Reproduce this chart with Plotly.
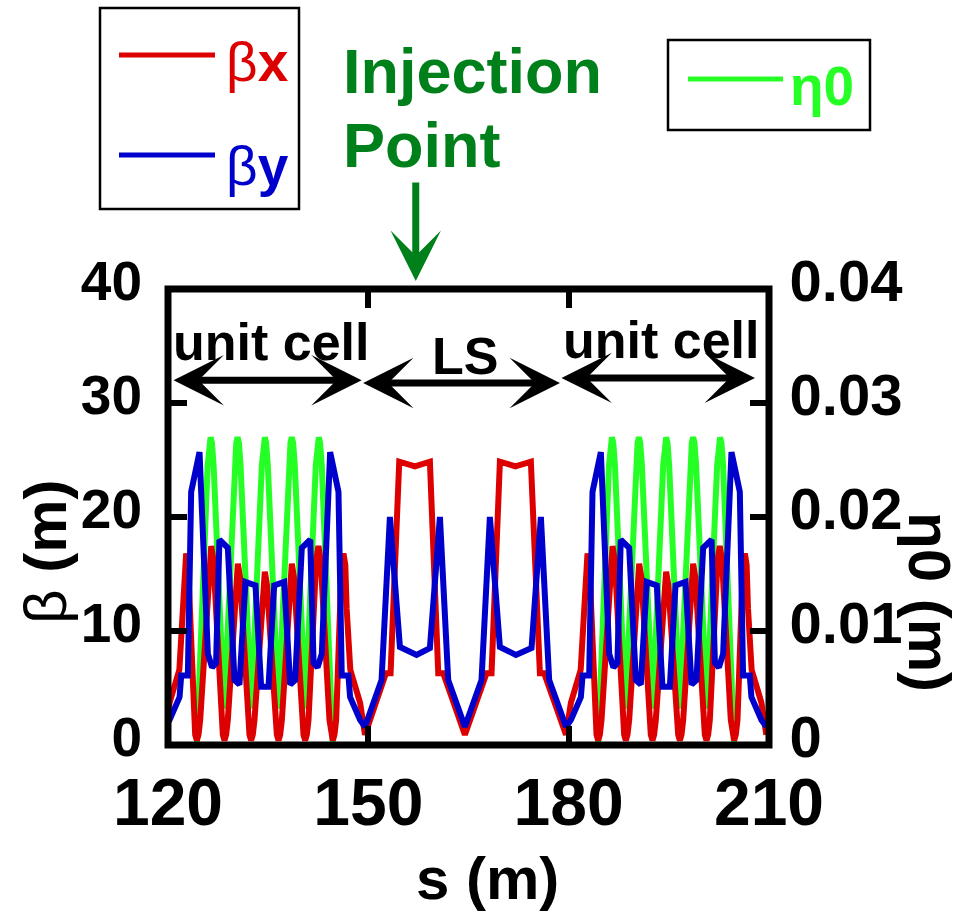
import plotly.graph_objects as go

# ---------------- lattice functions ----------------
# One unit cell, s measured from the cell entrance (m)
cell_u_bx = [0.0, 0.73, 2.2, 2.75, 2.95, 3.22, 3.5, 4.32, 4.57, 4.82, 5.07, 5.32,
             6.64, 6.97, 7.3, 8.46, 8.71, 8.96, 9.21, 9.46, 10.63, 10.96, 11.29,
             12.45, 12.7, 12.95, 13.2, 13.45, 14.67, 15.0, 15.33, 16.55, 16.8, 17.05,
             17.3, 17.55, 18.71, 19.04, 19.37, 20.54, 20.79, 21.04, 21.29, 21.54,
             22.7, 23.03, 23.36, 24.68, 24.93, 25.18, 25.43, 25.68, 26.5, 26.78,
             27.05, 27.25, 27.8, 29.27, 30.0]
cell_bx = [0.9, 3.7, 6.6, 12.0, 15.8, 16.8, 15.8, 2.2, 0.9, 0.4, 0.9, 2.2,
           16.25, 17.45, 16.25, 2.2, 0.9, 0.4, 0.9, 2.2, 14.7, 15.9, 14.7,
           2.2, 0.9, 0.4, 0.9, 2.2, 14.0, 15.2, 14.0, 2.2, 0.9, 0.4,
           0.9, 2.2, 14.7, 15.9, 14.7, 2.2, 0.9, 0.4, 0.9, 2.2,
           16.25, 17.45, 16.25, 2.2, 0.9, 0.4, 0.9, 2.2, 15.8, 16.8,
           15.8, 12.0, 6.6, 3.7, 0.9]

cell_u_by = [0.0, 0.73, 2.23, 2.48, 3.47, 3.97, 5.22, 6.47, 7.1, 7.7, 8.2, 9.46,
             10.46, 11.2, 12.1, 13.6, 14.45, 15.55, 16.4, 17.9, 18.8, 19.54, 20.54,
             21.8, 22.3, 22.9, 23.53, 24.78, 26.03, 26.52, 27.52, 27.77, 29.27, 30.0]
cell_by = [1.6, 2.2, 4.2, 6.1, 6.1, 22.2, 25.7, 8.0, 6.8, 7.2, 18.0, 17.3,
           5.7, 5.3, 14.3, 14.0, 5.1, 5.1, 14.0, 14.3, 5.3, 5.7, 17.3,
           18.0, 7.2, 6.8, 8.0, 25.7, 22.2, 6.1, 6.1, 4.2, 2.2, 1.6]

cell_u_eta = [0.0, 4.82, 6.43, 6.68, 6.88, 7.08, 7.33, 8.9, 10.47, 10.72, 10.92,
              11.12, 11.37, 12.97, 14.55, 14.8, 15.0, 15.2, 15.45, 17.03, 18.59,
              18.84, 19.04, 19.24, 19.49, 21.08, 22.63, 22.88, 23.08, 23.28, 23.53,
              25.18, 30.0]
cell_eta = [0.0, 0.0, 0.0245, 0.0265, 0.027, 0.0265, 0.0245, 0.0032, 0.0245, 0.0265, 0.027,
            0.0265, 0.0245, 0.0032, 0.0245, 0.0265, 0.027, 0.0265, 0.0245, 0.0032, 0.0245,
            0.0265, 0.027, 0.0265, 0.0245, 0.0032, 0.0245, 0.0265, 0.027, 0.0265, 0.0245,
            0.0, 0.0]

# Long straight section between the two cells (absolute s, m)
ls_s_bx = [149.5, 152.63, 153.33, 154.63, 156.97, 159.22, 160.47, 161.22, 164.46,
           167.7, 168.45, 169.7, 172.04, 174.34, 175.69, 176.33, 179.6]
ls_bx = [0.9, 6.3, 6.3, 24.85, 24.45, 24.85, 6.3, 6.3, 0.9,
         6.3, 6.3, 24.85, 24.45, 24.85, 6.3, 6.3, 0.9]
ls_s_by = [149.5, 151.98, 153.23, 154.73, 157.22, 159.22, 160.72, 161.96, 164.46,
           166.95, 168.2, 169.7, 172.1, 174.44, 175.84, 177.08, 179.6]
ls_by = [1.6, 5.7, 20.0, 8.6, 7.9, 8.5, 20.0, 5.7, 1.6,
         5.7, 20.0, 8.6, 7.9, 8.5, 20.0, 5.7, 1.6]
ls_s_eta = [149.5, 179.6]
ls_eta = [0.0, 0.0]

# Entrances of the two unit cells (m)
cell_starts = [119.5, 179.6]

# Section labels and the extents of their arrows (m)
section_names = ["unit cell", "LS", "unit cell"]
section_edges = [120.6, 149.0, 178.7, 207.9]
section_arrow_beta = [32.0, 31.75, 32.2]
section_label_beta = [35.35, 34.1, 35.5]

injection_s = 157.1

# Axis ticks
s_ticks = [120, 150, 180, 210]
beta_ticks = [0, 10, 20, 30, 40]
eta_ticks = [0, 0.01, 0.02, 0.03, 0.04]

RED = "#dd0000"
BLUE = "#0000cc"
GREEN = "#26ff26"
DARK_GREEN = "#00801a"
FONT = "Liberation Sans, Arial, sans-serif"


def ring(cell_u, cell_v, ls_s, ls_v):
    s = [cell_starts[0] + u for u in cell_u] + ls_s + [cell_starts[1] + u for u in cell_u]
    v = cell_v + ls_v + cell_v
    return s, v


s_bx, bx = ring(cell_u_bx, cell_bx, ls_s_bx, ls_bx)
s_by, by = ring(cell_u_by, cell_by, ls_s_by, ls_by)
s_eta, eta = ring(cell_u_eta, cell_eta, ls_s_eta, ls_eta)

fig = go.Figure()
# dispersion on the primary (right-hand) axis so the beta curves sit above it
fig.add_trace(go.Scatter(x=s_eta, y=eta, mode="lines", yaxis="y",
                         line=dict(color=GREEN, width=6), name="η0"))
fig.add_trace(go.Scatter(x=s_bx, y=bx, mode="lines", yaxis="y2",
                         line=dict(color=RED, width=6), name="βx"))
fig.add_trace(go.Scatter(x=s_by, y=by, mode="lines", yaxis="y2",
                         line=dict(color=BLUE, width=6), name="βy"))

L, R, T, B = 168, 204, 289, 172
W, H = 973, 917
pw, ph = W - L - R, H - T - B


def px(xp):
    return (xp - L) / pw


def py(yp):
    return (H - B - yp) / ph


tick_common = dict(ticks="inside", ticklen=19, tickwidth=6, tickcolor="black",
                   showgrid=False, zeroline=False, showline=True, linewidth=1,
                   linecolor="black")

fig.update_layout(
    width=W, height=H,
    margin=dict(l=L, r=R, t=T, b=B, pad=0),
    paper_bgcolor="white", plot_bgcolor="white",
    showlegend=False,
    font=dict(family=FONT, color="black"),
    xaxis=dict(range=[120, 210], tickvals=s_ticks, mirror="ticks",
               tickfont=dict(size=66, weight="bold", family=FONT),
               ticklabelstandoff=0, **tick_common),
    yaxis=dict(range=[0, 0.04], tickvals=eta_ticks, side="right",
               tickfont=dict(size=58, weight="bold", family=FONT),
               ticklabelstandoff=8, ticklabelshift=-8, **tick_common),
    yaxis2=dict(range=[0, 40], tickvals=beta_ticks, side="left", overlaying="y",
                tickfont=dict(size=55, weight="bold", family=FONT),
                ticklabelstandoff=14, ticklabelshift=-8, **tick_common),
)

shapes = [
    # plot frame
    dict(type="rect", xref="paper", yref="paper", x0=0, x1=1, y0=0, y1=1,
         line=dict(color="black", width=7), layer="above"),
    # legend boxes
    dict(type="rect", xref="paper", yref="paper", x0=px(100), x1=px(299),
         y0=py(209), y1=py(8), line=dict(color="black", width=2.5)),
    dict(type="rect", xref="paper", yref="paper", x0=px(668), x1=px(870),
         y0=py(130), y1=py(40), line=dict(color="black", width=2.5)),
    # legend samples
    dict(type="line", xref="paper", yref="paper", x0=px(119), x1=px(215),
         y0=py(55), y1=py(55), line=dict(color=RED, width=5)),
    dict(type="line", xref="paper", yref="paper", x0=px(119), x1=px(215),
         y0=py(155), y1=py(155), line=dict(color=BLUE, width=5)),
    dict(type="line", xref="paper", yref="paper", x0=px(688), x1=px(783),
         y0=py(79), y1=py(79), line=dict(color=GREEN, width=5)),
]
fig.update_layout(shapes=shapes)

ann = []
# legend texts
ann.append(dict(xref="paper", yref="paper", x=px(224), y=py(62), xanchor="left",
                yanchor="middle", showarrow=False,
                text="<span style='font-weight:normal'>β</span>x",
                font=dict(size=55, color=RED, weight="bold", family=FONT)))
ann.append(dict(xref="paper", yref="paper", x=px(224), y=py(166), xanchor="left",
                yanchor="middle", showarrow=False,
                text="<span style='font-weight:normal'>β</span>y",
                font=dict(size=55, color=BLUE, weight="bold", family=FONT)))
ann.append(dict(xref="paper", yref="paper", x=px(788), y=py(86), xanchor="left",
                yanchor="middle", showarrow=False, text="η0",
                font=dict(size=55, color=GREEN, weight="bold", family=FONT)))

# injection point
ann.append(dict(xref="paper", yref="paper", x=px(341), y=py(71), xanchor="left",
                yanchor="middle", showarrow=False, text="Injection",
                font=dict(size=63, color=DARK_GREEN, weight="bold", family=FONT)))
ann.append(dict(xref="paper", yref="paper", x=px(341), y=py(145), xanchor="left",
                yanchor="middle", showarrow=False, text="Point",
                font=dict(size=63, color=DARK_GREEN, weight="bold", family=FONT)))
ann.append(dict(xref="x", yref="paper", x=injection_s, y=py(281), ax=0, ay=-100,
                text="", showarrow=True, arrowhead=3, arrowsize=1.2, arrowwidth=7,
                arrowcolor=DARK_GREEN))

# section arrows and labels
for i, name in enumerate(section_names):
    x0, x1 = section_edges[i], section_edges[i + 1]
    yb = section_arrow_beta[i]
    ann.append(dict(xref="x", yref="y2", axref="x", ayref="y2", x=x1, y=yb, ax=x0, ay=yb,
                    text="", showarrow=True, arrowside="end+start", arrowhead=3,
                    startarrowhead=3, arrowsize=1.2, startarrowsize=1.2,
                    arrowwidth=7, arrowcolor="black"))
    ann.append(dict(xref="x", yref="y2", x=(x0 + x1) / 2 + 0.6, y=section_label_beta[i],
                    text=name, showarrow=False, xanchor="center", yanchor="middle",
                    font=dict(size=52, color="black", weight="bold", family=FONT)))

# axis titles
ann.append(dict(xref="paper", yref="paper", x=px(487), y=py(878), showarrow=False,
                text="s (m)", xanchor="center", yanchor="middle",
                font=dict(size=60, weight="bold", family=FONT)))
ann.append(dict(xref="paper", yref="paper", x=px(45), y=py(551), showarrow=False,
                text="<span style='font-weight:normal'>β</span> (m)", textangle=-90,
                xanchor="center", yanchor="middle",
                font=dict(size=60, weight="bold", family=FONT)))
ann.append(dict(xref="paper", yref="paper", x=px(930), y=py(602), showarrow=False,
                text="η0 (m)", textangle=90, xanchor="center", yanchor="middle",
                font=dict(size=60, weight="bold", family=FONT)))

fig.update_layout(annotations=ann)

fig.write_html("out.html")
